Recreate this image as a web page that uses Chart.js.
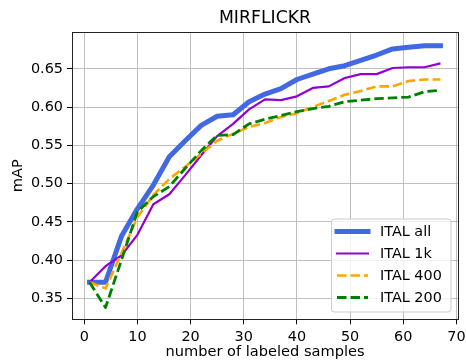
<!DOCTYPE html>
<html>
<head>
<meta charset="utf-8">
<script src="https://cdn.jsdelivr.net/npm/chart.js@4/dist/chart.umd.min.js"></script>
<style>
  html, body { margin: 0; padding: 0; background: #fff; }
  #wrap { width: 467px; height: 360px; }
</style>
</head>
<body>
<div id="wrap"><canvas id="mycanvas" width="467" height="360"></canvas></div>
<script>
// labeled samples (x)
var samples = [1, 4, 7, 10, 13, 16, 19, 22, 25, 28, 31, 34, 37, 40, 43, 46, 49, 52, 55, 58, 61, 64, 67];

var italAll = [0.371, 0.371, 0.431, 0.467, 0.498, 0.535, 0.556, 0.576, 0.588, 0.590, 0.607, 0.617,
               0.624, 0.636, 0.643, 0.650, 0.654, 0.661, 0.668, 0.676, 0.678, 0.680, 0.680];
var ital1k  = [0.371, 0.392, 0.406, 0.433, 0.473, 0.486, 0.511, 0.537, 0.562, 0.578, 0.597, 0.610,
               0.609, 0.614, 0.625, 0.627, 0.638, 0.643, 0.643, 0.651, 0.652, 0.652, 0.657];
var ital400 = [0.371, 0.363, 0.409, 0.456, 0.485, 0.506, 0.522, 0.539, 0.556, 0.565, 0.574, 0.579,
               0.587, 0.592, 0.600, 0.608, 0.616, 0.621, 0.627, 0.627, 0.634, 0.636, 0.636];
var ital200 = [0.371, 0.338, 0.400, 0.463, 0.483, 0.496, 0.520, 0.543, 0.563, 0.564, 0.578, 0.584,
               0.589, 0.594, 0.598, 0.601, 0.607, 0.609, 0.611, 0.612, 0.613, 0.620, 0.622];

var xTicks = [0, 10, 20, 30, 40, 50, 60, 70];
var yTicks = [0.35, 0.40, 0.45, 0.50, 0.55, 0.60, 0.65];

function pts(ys) {
  return samples.map(function(x, i) { return {x: x, y: ys[i]}; });
}

var FONT = 'DejaVu Sans';

// top/right spines like matplotlib
var boxPlugin = {
  id: 'frame',
  afterDatasetsDraw: function(chart) {
    var a = chart.chartArea, c = chart.ctx;
    c.save();
    c.strokeStyle = '#222';
    c.lineWidth = 1;
    c.strokeRect(Math.round(a.left) + 0.5, Math.round(a.top) + 0.5,
                 Math.round(a.right - a.left), Math.round(a.bottom - a.top));
    c.restore();
  }
};

// legend box in the lower right, inside the axes
var legendPlugin = {
  id: 'innerLegend',
  afterDraw: function(chart) {
    var c = chart.ctx;
    var bx = 331.5, by = 219, bw = 119.5, bh = 93;
    c.save();
    c.beginPath();
    c.roundRect(bx, by, bw, bh, 3);
    c.fillStyle = 'rgba(255,255,255,0.8)';
    c.fill();
    c.strokeStyle = '#cccccc';
    c.lineWidth = 1;
    c.stroke();
    c.font = '14.4px "' + FONT + '"';
    c.textBaseline = 'middle';
    chart.data.datasets.forEach(function(ds, i) {
      var y = 231.5 + i * 22;
      c.beginPath();
      c.strokeStyle = ds.borderColor;
      c.lineWidth = ds.borderWidth;
      c.setLineDash(ds.borderDash || []);
      c.lineCap = ds.borderDash ? 'butt' : 'square';
      c.moveTo(337, y);
      c.lineTo(368, y);
      c.stroke();
      c.setLineDash([]);
      c.fillStyle = '#000';
      c.fillText(ds.label, 380, y + 1);
    });
    c.restore();
  }
};

var ctx = document.getElementById('mycanvas').getContext('2d');
var chart = new Chart(ctx, {
  type: 'line',
  data: {
    datasets: [
      { label: 'ITAL all', data: pts(italAll), borderColor: '#4169e1', borderWidth: 5,
        borderCapStyle: 'square', order: 4 },
      { label: 'ITAL 1k', data: pts(ital1k), borderColor: '#9400d3', borderWidth: 2.2, order: 3 },
      { label: 'ITAL 400', data: pts(ital400), borderColor: '#ffa500', borderWidth: 2.6,
        borderDash: [9.5, 4], order: 2 },
      { label: 'ITAL 200', data: pts(ital200), borderColor: '#008000', borderWidth: 2.8,
        borderDash: [9.5, 4], order: 1 }
    ]
  },
  options: {
    responsive: false,
    animation: false,
    layout: { padding: { left: 0, right: 9, top: 0, bottom: 0 } },
    elements: {
      point: { radius: 0 },
      line: { tension: 0, borderJoinStyle: 'round', fill: false }
    },
    plugins: {
      legend: { display: false },
      tooltip: { enabled: false },
      title: {
        display: true, text: 'MIRFLICKR', fullSize: false, color: '#000',
        font: { family: FONT, size: 17.3, weight: 'normal' },
        padding: { top: 8, bottom: 3.3 }
      }
    },
    scales: {
      x: {
        type: 'linear', min: -2.3, max: 70.3,
        afterFit: function(s) { s.height = 40.7; s.paddingLeft = 0; s.paddingRight = 0; },
        afterBuildTicks: function(s) { s.ticks = xTicks.map(function(v) { return {value: v}; }); },
        ticks: { color: '#000', padding: 4, font: { family: FONT, size: 14.4 } },
        grid: { color: '#b0b0b0', lineWidth: 0.8, tickLength: 5, tickColor: '#000', tickWidth: 1 },
        border: { display: false },
        title: { display: true, text: 'number of labeled samples', color: '#000',
                 font: { family: FONT, size: 14.6, lineHeight: 1 }, padding: 0 }
      },
      y: {
        min: 0.3226, max: 0.698,
        afterFit: function(s) { s.width = 72; s.paddingTop = 0; s.paddingBottom = 0; },
        afterBuildTicks: function(s) { s.ticks = yTicks.map(function(v) { return {value: v}; }); },
        ticks: { color: '#000', padding: 4, font: { family: FONT, size: 14.4 },
                 callback: function(v) { return v.toFixed(2); } },
        grid: { color: '#b0b0b0', lineWidth: 0.8, tickLength: 5, tickColor: '#000', tickWidth: 1 },
        border: { display: false },
        title: { display: true, text: 'mAP', color: '#000',
                 font: { family: FONT, size: 14.6, lineHeight: 1 }, padding: { top: 11, bottom: 0 } }
      }
    }
  },
  plugins: [boxPlugin, legendPlugin]
});
</script>
</body>
</html>
